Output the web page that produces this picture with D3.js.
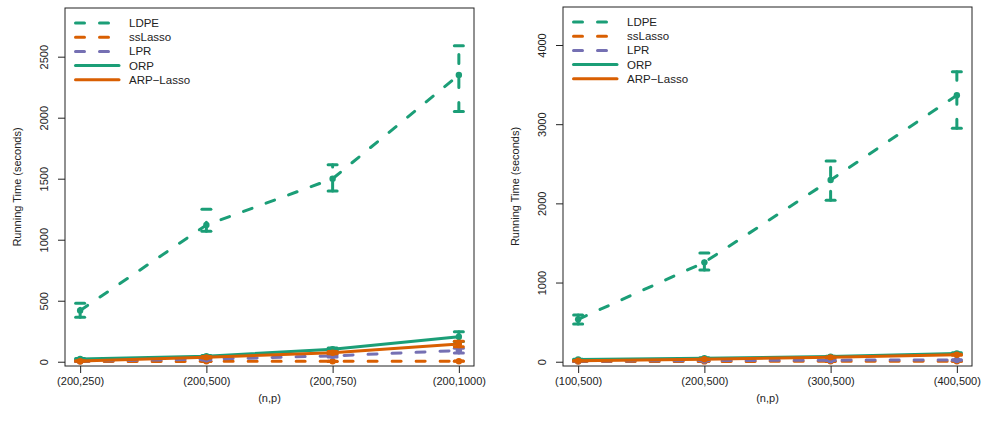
<!DOCTYPE html>
<html>
<head>
<meta charset="utf-8">
<script src="https://cdn.jsdelivr.net/npm/d3@7"></script>
<style>
  body { margin: 0; background: #fff; }
  svg { display: block; font-family: "Liberation Sans", Arial, Helvetica, sans-serif; }
</style>
</head>
<body>
<svg id="chart" width="983" height="437"></svg>
<script>
// ---------- data ----------
const seriesNames = ["LDPE", "ssLasso", "LPR", "ORP", "ARP-Lasso"];
const seriesColors = ["#1B9E77", "#D95F02", "#7570B3", "#1B9E77", "#D95F02"];
const seriesDashed = [true, true, true, false, false];

const leftCategories = ["(200,250)", "(200,500)", "(200,750)", "(200,1000)"];
const leftTicks = [0, 500, 1000, 1500, 2000, 2500];
const leftLDPE = [420, 1120, 1500, 2350];
const leftLDPELow = [365, 1070, 1400, 2050];
const leftLDPEHigh = [480, 1250, 1615, 2590];
const leftSsLasso = [2, 3, 3, 4];
const leftSsLassoLow = [1, 2, 2, 3];
const leftSsLassoHigh = [3, 4, 4, 5];
const leftLPR = [5, 20, 48, 92];
const leftLPRLow = [3, 15, 38, 72];
const leftLPRHigh = [7, 25, 58, 110];
const leftORP = [22, 45, 103, 205];
const leftORPLow = [18, 38, 95, 165];
const leftORPHigh = [26, 52, 112, 245];
const leftARP = [5, 36, 74, 145];
const leftARPLow = [3, 30, 65, 122];
const leftARPHigh = [8, 42, 84, 168];

const rightCategories = ["(100,500)", "(200,500)", "(300,500)", "(400,500)"];
const rightTicks = [0, 1000, 2000, 3000, 4000];
const rightLDPE = [535, 1255, 2295, 3365];
const rightLDPELow = [475, 1160, 2040, 2950];
const rightLDPEHigh = [590, 1372, 2535, 3662];
const rightSsLasso = [3, 4, 5, 6];
const rightSsLassoLow = [2, 3, 4, 5];
const rightSsLassoHigh = [4, 5, 6, 7];
const rightLPR = [8, 15, 20, 22];
const rightLPRLow = [6, 12, 16, 18];
const rightLPRHigh = [10, 18, 24, 26];
const rightORP = [28, 45, 65, 105];
const rightORPLow = [25, 41, 60, 98];
const rightORPHigh = [31, 49, 70, 112];
const rightARP = [12, 32, 55, 88];
const rightARPLow = [10, 29, 51, 82];
const rightARPHigh = [14, 35, 59, 94];

// ---------- drawing ----------
const svg = d3.select("#chart");

function drawPanel(cfg) {
  const g = svg.append("g");
  const x = d3.scaleLinear().domain([0.88, 4.12]).range([cfg.left, cfg.right]);
  const y = d3.scaleLinear().domain(cfg.yDomain).range([cfg.bottom, cfg.top]);

  // box
  g.append("rect")
    .attr("x", cfg.left).attr("y", cfg.top)
    .attr("width", cfg.right - cfg.left).attr("height", cfg.bottom - cfg.top)
    .attr("fill", "none").attr("stroke", "#222").attr("stroke-width", 1);

  // y axis
  const yAxis = d3.axisLeft(y).tickValues(cfg.yTicks).tickSize(7).tickFormat(d3.format("d"));
  const ya = g.append("g").attr("transform", `translate(${cfg.left},0)`).call(yAxis);
  ya.select(".domain").remove();
  ya.selectAll(".tick line").attr("stroke", "#222");
  ya.selectAll(".tick text")
    .attr("x", 0).attr("dy", null).attr("y", 0)
    .attr("transform", "translate(-21,0) rotate(-90)")
    .attr("text-anchor", "middle")
    .attr("dominant-baseline", "central")
    .style("font-size", "11px").attr("fill", "#222");

  // x axis
  const xAxis = d3.axisBottom(x).tickValues([1, 2, 3, 4]).tickSize(7)
    .tickFormat((d, i) => cfg.categories[i]);
  const xa = g.append("g").attr("transform", `translate(0,${cfg.bottom})`).call(xAxis);
  xa.select(".domain").remove();
  xa.selectAll(".tick line").attr("stroke", "#222");
  xa.selectAll(".tick text").attr("y", 11).attr("dy", "0.71em")
    .style("font-size", "11px").attr("fill", "#222");

  // axis titles
  g.append("text")
    .attr("transform", `translate(${cfg.left - 48},${(cfg.top + cfg.bottom) / 2}) rotate(-90)`)
    .attr("text-anchor", "middle").attr("dominant-baseline", "central")
    .style("font-size", "11px").attr("fill", "#222")
    .text("Running Time (seconds)");
  g.append("text")
    .attr("x", (cfg.left + cfg.right) / 2).attr("y", 402)
    .attr("text-anchor", "middle")
    .style("font-size", "11px").attr("fill", "#222")
    .text("(n,p)");

  const line = d3.line().x((d, i) => x(i + 1)).y(d => y(d));

  cfg.series.forEach((s, k) => {
    const color = seriesColors[k];
    const dashed = seriesDashed[k];
    const sg = g.append("g");
    // error bars
    s.low.forEach((lo, i) => {
      const hi = s.high[i];
      const xp = x(i + 1);
      sg.append("line")
        .attr("x1", xp).attr("x2", xp).attr("y1", y(lo)).attr("y2", y(hi))
        .attr("stroke", color).attr("stroke-width", 3)
        .attr("stroke-linecap", "round")
        .attr("stroke-dasharray", dashed ? "9,15" : null);
      [lo, hi].forEach(v => {
        sg.append("line")
          .attr("x1", xp - 4.5).attr("x2", xp + 4.5).attr("y1", y(v)).attr("y2", y(v))
          .attr("stroke", color).attr("stroke-width", 3)
          .attr("stroke-linecap", "round");
      });
    });
    // line
    sg.append("path").datum(s.values)
      .attr("d", line).attr("fill", "none")
      .attr("stroke", color).attr("stroke-width", 3)
      .attr("stroke-linecap", "round")
      .attr("stroke-dasharray", dashed ? "9,15" : null);
    // points
    sg.selectAll("circle").data(s.values).enter().append("circle")
      .attr("cx", (d, i) => x(i + 1)).attr("cy", d => y(d)).attr("r", 3.2)
      .attr("fill", color);
  });

  // legend
  const lg = g.append("g");
  seriesNames.forEach((name, k) => {
    const yy = cfg.top + 15 + k * 14.2;
    lg.append("line")
      .attr("x1", cfg.left + 10.5).attr("x2", cfg.left + 54)
      .attr("y1", yy).attr("y2", yy)
      .attr("stroke", seriesColors[k]).attr("stroke-width", 3)
      .attr("stroke-linecap", "round")
      .attr("stroke-dasharray", seriesDashed[k] ? "9,15" : null);
    lg.append("text")
      .attr("x", cfg.left + 64).attr("y", yy)
      .attr("dominant-baseline", "central")
      .style("font-size", "11.5px").attr("fill", "#222")
      .text(name.replace("-", "\u2212"));
  });
}

drawPanel({
  left: 65, right: 474, top: 8, bottom: 366,
  yDomain: [-35, 2899],
  yTicks: leftTicks,
  categories: leftCategories,
  series: [
    { values: leftLDPE, low: leftLDPELow, high: leftLDPEHigh },
    { values: leftSsLasso, low: leftSsLassoLow, high: leftSsLassoHigh },
    { values: leftLPR, low: leftLPRLow, high: leftLPRHigh },
    { values: leftORP, low: leftORPLow, high: leftORPHigh },
    { values: leftARP, low: leftARPLow, high: leftARPHigh }
  ]
});

drawPanel({
  left: 563, right: 972, top: 7, bottom: 366,
  yDomain: [-54, 4480],
  yTicks: rightTicks,
  categories: rightCategories,
  series: [
    { values: rightLDPE, low: rightLDPELow, high: rightLDPEHigh },
    { values: rightSsLasso, low: rightSsLassoLow, high: rightSsLassoHigh },
    { values: rightLPR, low: rightLPRLow, high: rightLPRHigh },
    { values: rightORP, low: rightORPLow, high: rightORPHigh },
    { values: rightARP, low: rightARPLow, high: rightARPHigh }
  ]
});
</script>
</body>
</html>
